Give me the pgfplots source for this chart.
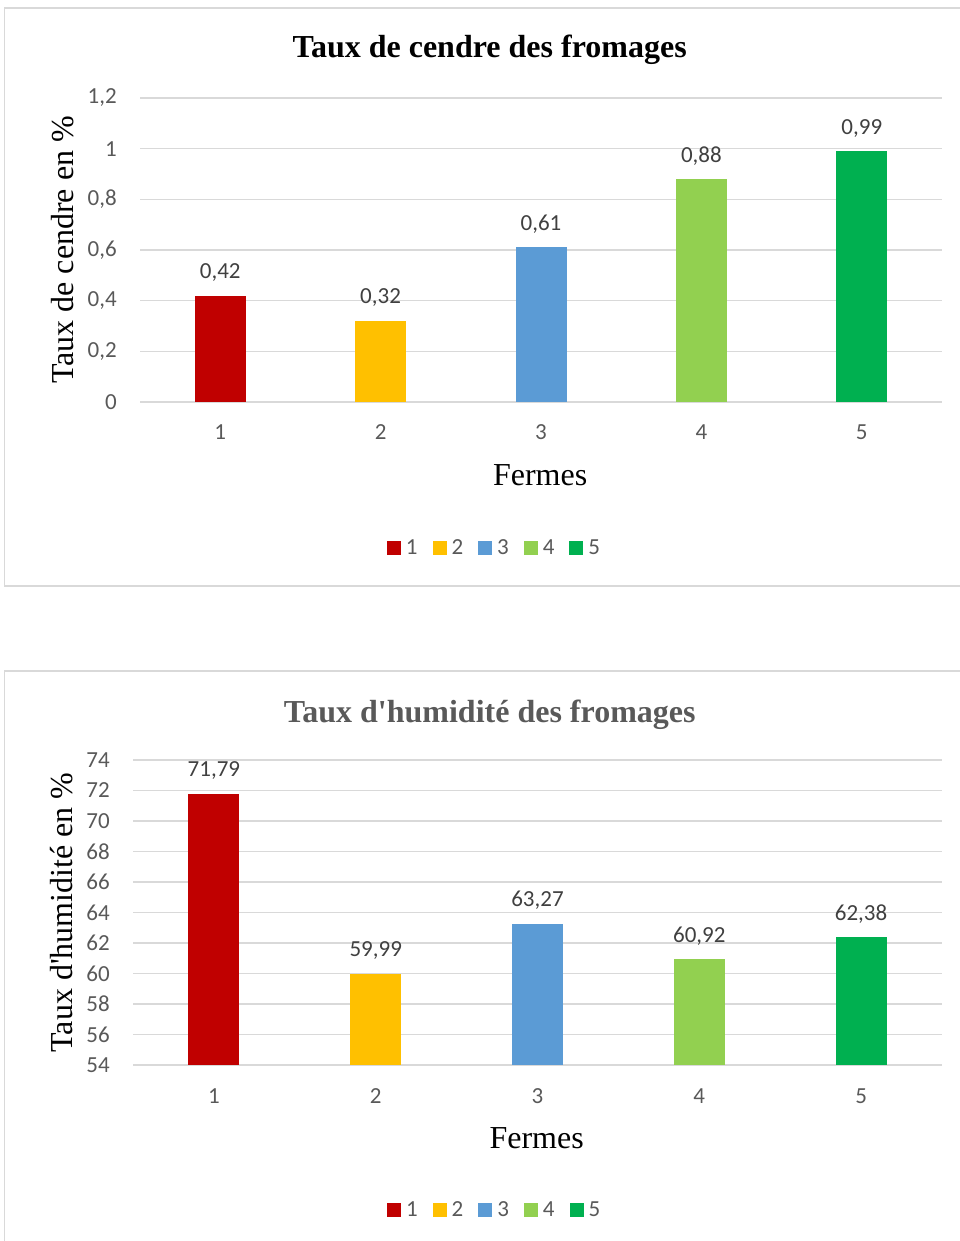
\documentclass[border=0pt]{standalone}
\usepackage{pgfplots}
\pgfplotsset{compat=1.18}
\usepackage{fontspec}
\setmainfont{Carlito}
\newfontfamily\tnr{Liberation Serif}
\definecolor{c1}{HTML}{C00000}
\definecolor{c2}{HTML}{FFC000}
\definecolor{c3}{HTML}{5B9BD5}
\definecolor{c4}{HTML}{92D050}
\definecolor{c5}{HTML}{00B050}
\definecolor{gridc}{HTML}{D9D9D9}
\definecolor{tickc}{HTML}{595959}
\definecolor{datac}{HTML}{404040}
\pgfplotsset{
  mystyle/.style={
    scale only axis,
    anchor=south west,
    xmin=0.5, xmax=5.5,
    xtick={1,2,3,4,5},
    ymajorgrids,
    grid style={draw=gridc, line width=1.2bp},
    axis line style={draw=none},
    major tick length=0pt,
    /pgf/number format/assume math mode=true,
    /pgf/number format/use comma,
    /pgf/number format/1000 sep={},
    tick label style={font=\fontsize{23bp}{26bp}\selectfont, text=tickc},
    yticklabel style={anchor=east, inner sep=0pt, xshift=-23bp},
    xticklabel style={anchor=base, inner sep=0pt, yshift=-38bp},
    ybar, bar width=51bp, bar shift=0pt,
    nodes near coords,
    every node near coord/.append style={font=\fontsize{23bp}{26bp}\selectfont, text=datac, anchor=base, inner sep=0pt, yshift=17bp},
    legend columns=5,
    legend style={draw=none, fill=none, font=\fontsize{23bp}{26bp}\selectfont, text=tickc, anchor=center,
      /tikz/every even column/.append style={column sep=13bp}},
    legend image code/.code={\fill[#1,draw=none] (0bp,-7bp) rectangle (14bp,7bp); \path (17bp,0bp);},
    label style={font=\tnr\fontsize{32bp}{36bp}\selectfont, text=black},
  }
}
\begin{document}
\begin{tikzpicture}
\useasboundingbox (0,0) rectangle (960bp,1241bp);
\draw[gridc, line width=1.5bp] (4.5bp,655bp) rectangle (962bp,1233bp);
\draw[gridc, line width=1.5bp] (4.5bp,570bp) rectangle (962bp,-5bp);
\begin{axis}[mystyle,
  at={(140bp,839bp)}, width=802bp, height=304bp,
  ymin=0, ymax=1.2, ytick={0,0.2,0.4,0.6,0.8,1,1.2},
  title={\tnr\bfseries Taux de cendre des fromages},
  title style={at={(axis description cs:0.436,1.138)}, anchor=center, yshift=0pt, font=\fontsize{32bp}{36bp}\selectfont, text=black},
  xlabel={Fermes},
  xlabel style={at={(axis description cs:0.499,-0.240)}, anchor=center},
  ylabel={Taux de cendre en \%},
  ylabel style={at={(axis description cs:-0.097,0.5)}, anchor=center, rotate=0},
  legend style={at={(axis description cs:0.442,-0.480)}},
]
\addplot[fill=c1, draw=none] coordinates {(1,0.42)};
\addplot[fill=c2, draw=none] coordinates {(2,0.32)};
\addplot[fill=c3, draw=none] coordinates {(3,0.61)};
\addplot[fill=c4, draw=none] coordinates {(4,0.88)};
\addplot[fill=c5, draw=none] coordinates {(5,0.99)};
\legend{1,2,3,4,5}
\end{axis}
\begin{axis}[mystyle,
  at={(133bp,176bp)}, width=809bp, height=305bp,
  ymin=54, ymax=74, ytick={54,56,...,74},
  title={\tnr\bfseries Taux d'humidité des fromages},
  title style={at={(axis description cs:0.441,1.128)}, anchor=center, yshift=0pt, font=\fontsize{32bp}{36bp}\selectfont, text=tickc},
  xlabel={Fermes},
  xlabel style={at={(axis description cs:0.499,-0.239)}, anchor=center},
  ylabel={Taux d'humidité en \%},
  ylabel style={at={(axis description cs:-0.0878,0.5)}, anchor=center, rotate=0},
  legend style={at={(axis description cs:0.447,-0.475)}},
]
\addplot[fill=c1, draw=none] coordinates {(1,71.79)};
\addplot[fill=c2, draw=none] coordinates {(2,59.99)};
\addplot[fill=c3, draw=none] coordinates {(3,63.27)};
\addplot[fill=c4, draw=none] coordinates {(4,60.92)};
\addplot[fill=c5, draw=none] coordinates {(5,62.38)};
\legend{1,2,3,4,5}
\end{axis}
\end{tikzpicture}
\end{document}
